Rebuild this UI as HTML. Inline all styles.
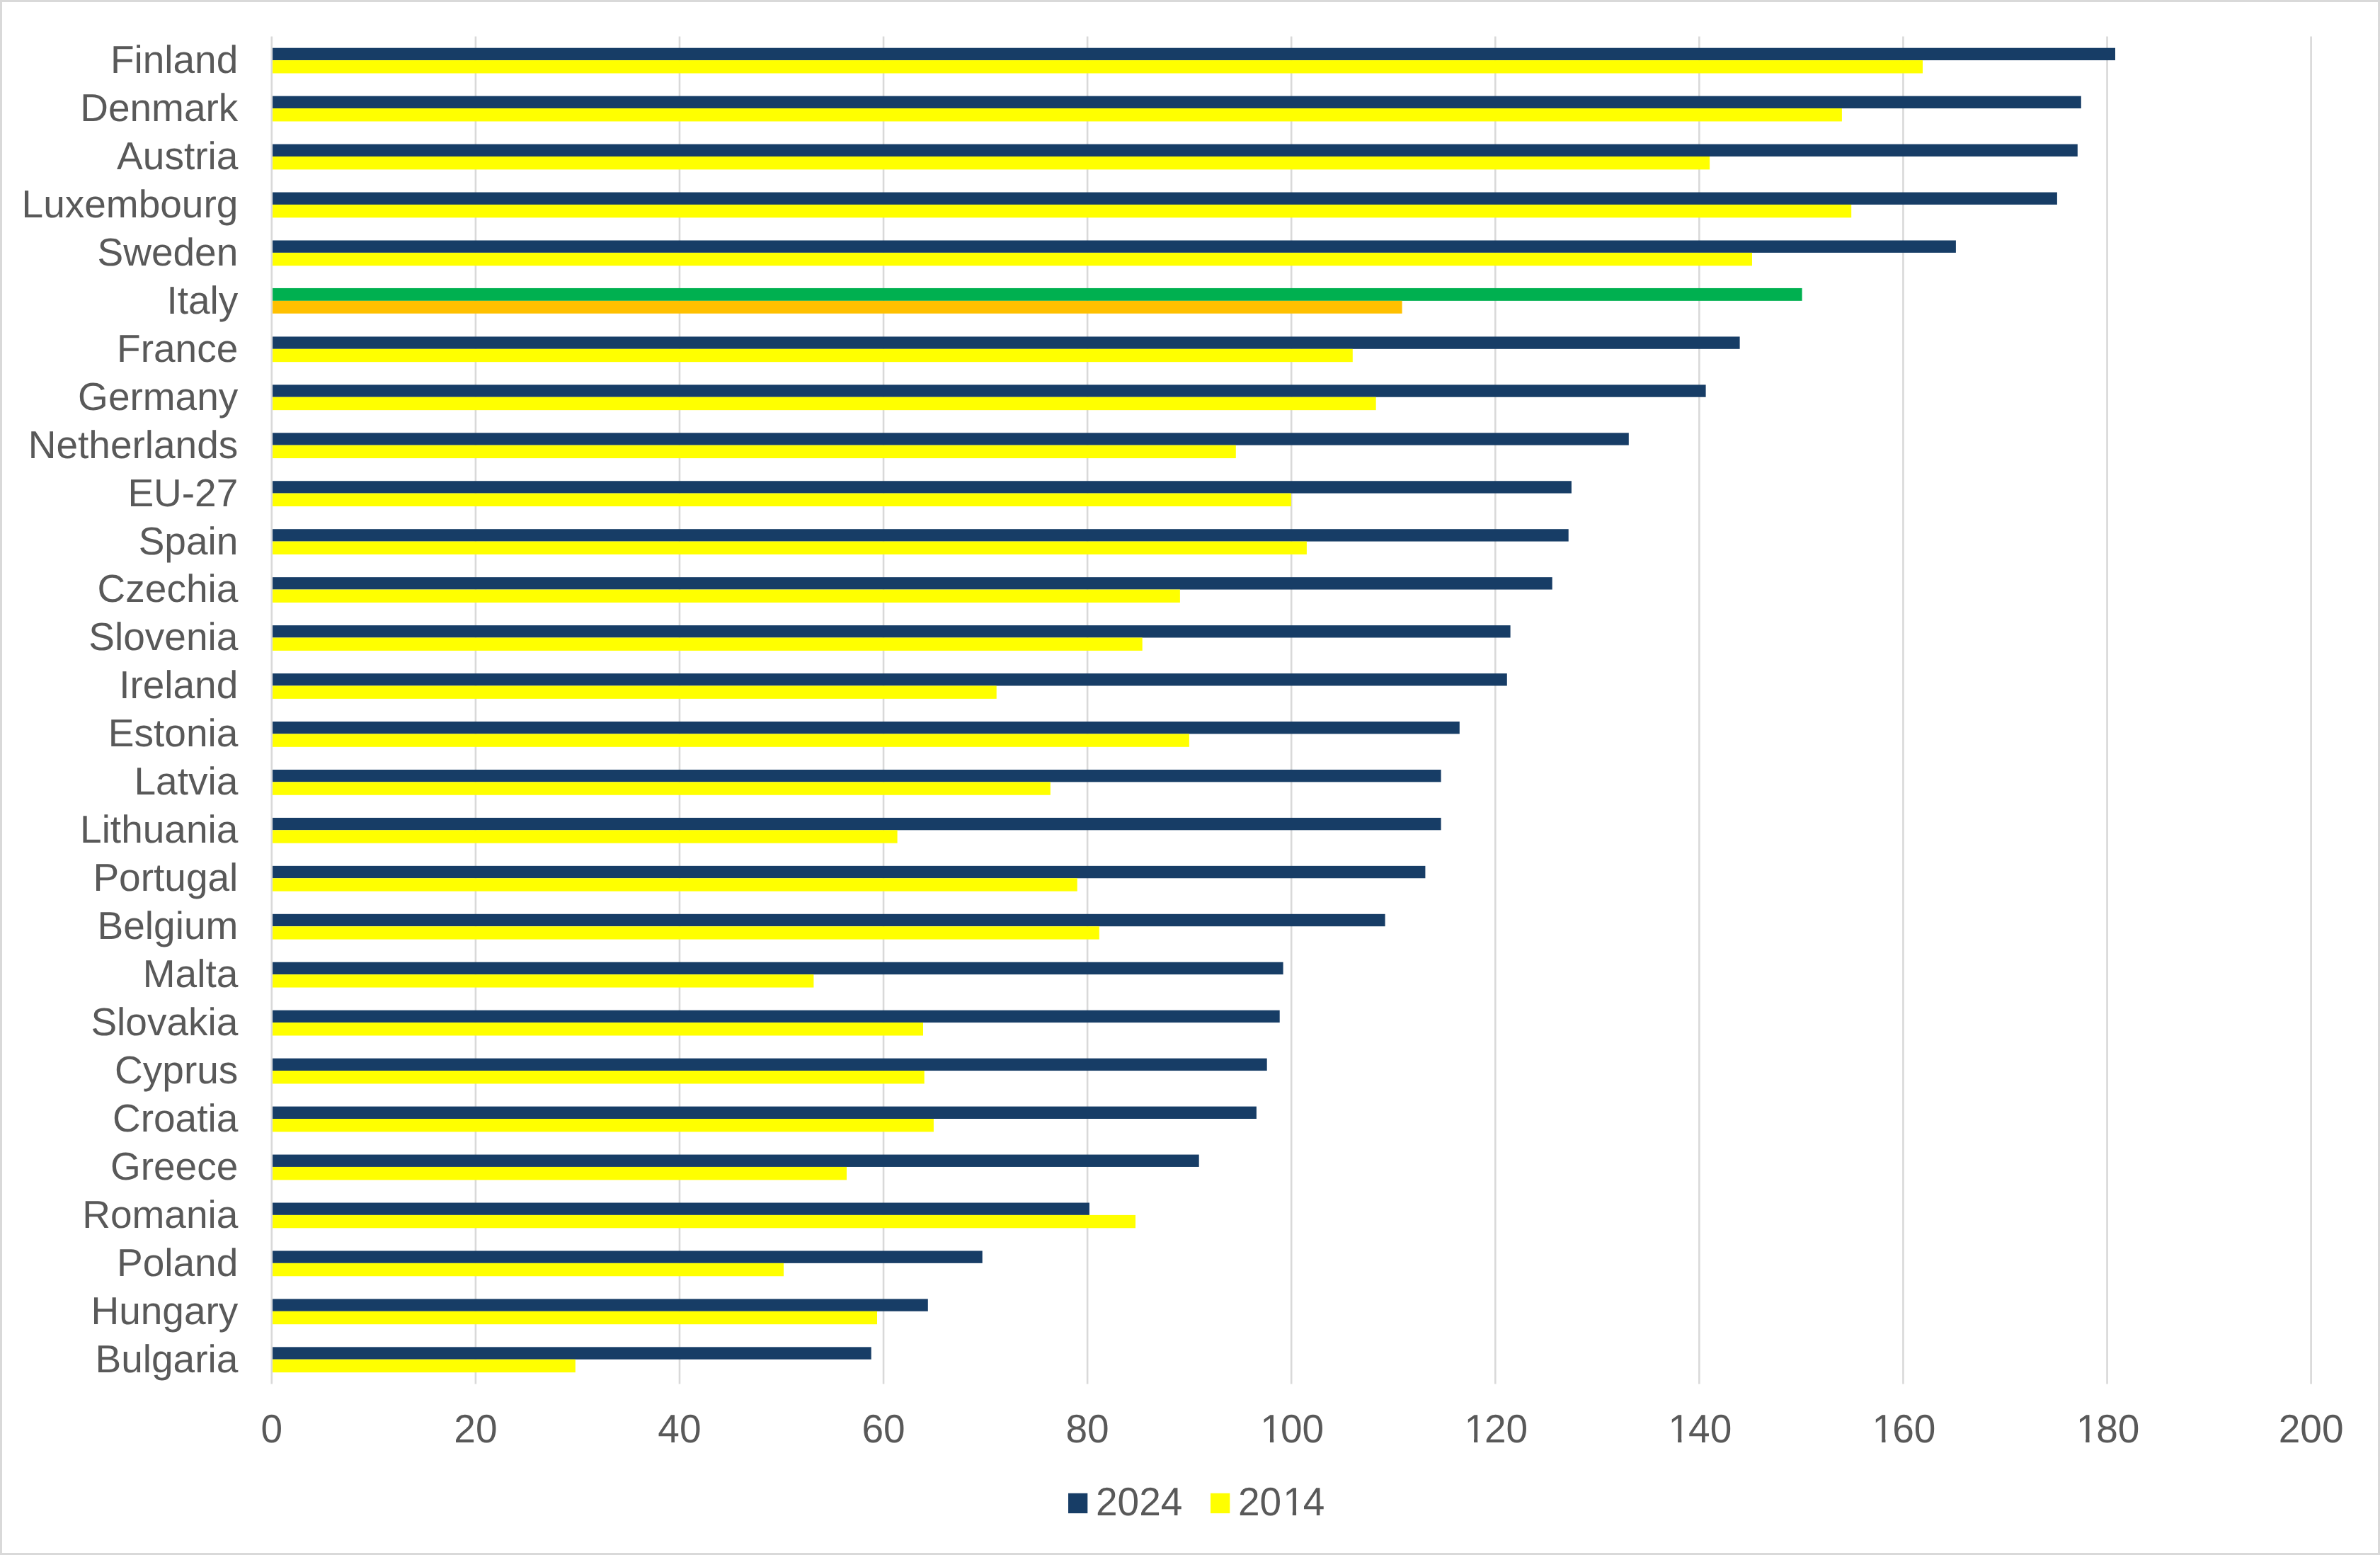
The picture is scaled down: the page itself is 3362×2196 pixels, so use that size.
<!DOCTYPE html>
<html lang="en"><head><meta charset="utf-8"><title>2024 vs 2014 by country</title>
<style>html,body{margin:0;padding:0;background:#fff}body{width:3362px;height:2196px;overflow:hidden}svg{display:block}text{font-family:"Liberation Sans",Arial,Helvetica,sans-serif;font-size:55px;fill:#595959;text-rendering:geometricPrecision}</style></head><body>
<svg width="3362" height="2196" viewBox="0 0 3362 2196">
<rect x="0" y="0" width="3362" height="2196" fill="#fff"/>
<rect x="1.5" y="1.5" width="3359" height="2193" fill="none" stroke="#d9d9d9" stroke-width="3"/>
<g fill="#d9d9d9">
<rect x="382.5" y="51.5" width="2.6" height="1903"/>
<rect x="670.58" y="51.5" width="2.6" height="1903"/>
<rect x="958.66" y="51.5" width="2.6" height="1903"/>
<rect x="1246.74" y="51.5" width="2.6" height="1903"/>
<rect x="1534.82" y="51.5" width="2.6" height="1903"/>
<rect x="1822.9" y="51.5" width="2.6" height="1903"/>
<rect x="2110.98" y="51.5" width="2.6" height="1903"/>
<rect x="2399.06" y="51.5" width="2.6" height="1903"/>
<rect x="2687.14" y="51.5" width="2.6" height="1903"/>
<rect x="2975.22" y="51.5" width="2.6" height="1903"/>
<rect x="3263.3" y="51.5" width="2.6" height="1903"/>
</g>
<rect x="385.1" y="67.7" width="2602.9" height="17.4" fill="#173d66"/>
<rect x="385.1" y="85.1" width="2330.9" height="18.4" fill="#ffff00"/>
<rect x="385.1" y="135.65" width="2554.7" height="17.4" fill="#173d66"/>
<rect x="385.1" y="153.05" width="2216.8" height="18.4" fill="#ffff00"/>
<rect x="385.1" y="203.6" width="2549.7" height="17.4" fill="#173d66"/>
<rect x="385.1" y="221" width="2030" height="18.4" fill="#ffff00"/>
<rect x="385.1" y="271.55" width="2520.8" height="17.4" fill="#173d66"/>
<rect x="385.1" y="288.95" width="2230.1" height="18.4" fill="#ffff00"/>
<rect x="385.1" y="339.5" width="2377.8" height="17.4" fill="#173d66"/>
<rect x="385.1" y="356.9" width="2089.9" height="18.4" fill="#ffff00"/>
<rect x="385.1" y="406.95" width="2160.5" height="17.9" fill="#00b050"/>
<rect x="385.1" y="424.85" width="1595.5" height="17.9" fill="#ffc000"/>
<rect x="385.1" y="475.4" width="2072.5" height="17.4" fill="#173d66"/>
<rect x="385.1" y="492.8" width="1525.7" height="18.4" fill="#ffff00"/>
<rect x="385.1" y="543.35" width="2024.5" height="17.4" fill="#173d66"/>
<rect x="385.1" y="560.75" width="1558.6" height="18.4" fill="#ffff00"/>
<rect x="385.1" y="611.3" width="1915.7" height="17.4" fill="#173d66"/>
<rect x="385.1" y="628.7" width="1360.7" height="18.4" fill="#ffff00"/>
<rect x="385.1" y="679.25" width="1834.8" height="17.4" fill="#173d66"/>
<rect x="385.1" y="696.65" width="1438.8" height="18.4" fill="#ffff00"/>
<rect x="385.1" y="747.2" width="1830.6" height="17.4" fill="#173d66"/>
<rect x="385.1" y="764.6" width="1460.8" height="18.4" fill="#ffff00"/>
<rect x="385.1" y="815.15" width="1807.6" height="17.4" fill="#173d66"/>
<rect x="385.1" y="832.55" width="1281.8" height="18.4" fill="#ffff00"/>
<rect x="385.1" y="883.1" width="1748.5" height="17.4" fill="#173d66"/>
<rect x="385.1" y="900.5" width="1228.6" height="18.4" fill="#ffff00"/>
<rect x="385.1" y="951.05" width="1743.7" height="17.4" fill="#173d66"/>
<rect x="385.1" y="968.45" width="1022.6" height="18.4" fill="#ffff00"/>
<rect x="385.1" y="1019" width="1676.7" height="17.4" fill="#173d66"/>
<rect x="385.1" y="1036.4" width="1294.8" height="18.4" fill="#ffff00"/>
<rect x="385.1" y="1086.95" width="1650.5" height="17.4" fill="#173d66"/>
<rect x="385.1" y="1104.35" width="1098.7" height="18.4" fill="#ffff00"/>
<rect x="385.1" y="1154.9" width="1650.5" height="17.4" fill="#173d66"/>
<rect x="385.1" y="1172.3" width="882.5" height="18.4" fill="#ffff00"/>
<rect x="385.1" y="1222.85" width="1628.3" height="17.4" fill="#173d66"/>
<rect x="385.1" y="1240.25" width="1136.6" height="18.4" fill="#ffff00"/>
<rect x="385.1" y="1290.8" width="1571.5" height="17.4" fill="#173d66"/>
<rect x="385.1" y="1308.2" width="1167.7" height="18.4" fill="#ffff00"/>
<rect x="385.1" y="1358.75" width="1427.5" height="17.4" fill="#173d66"/>
<rect x="385.1" y="1376.15" width="764.3" height="18.4" fill="#ffff00"/>
<rect x="385.1" y="1426.7" width="1422.6" height="17.4" fill="#173d66"/>
<rect x="385.1" y="1444.1" width="918.9" height="18.4" fill="#ffff00"/>
<rect x="385.1" y="1494.65" width="1404.6" height="17.4" fill="#173d66"/>
<rect x="385.1" y="1512.05" width="920.6" height="18.4" fill="#ffff00"/>
<rect x="385.1" y="1562.6" width="1389.8" height="17.4" fill="#173d66"/>
<rect x="385.1" y="1580" width="933.8" height="18.4" fill="#ffff00"/>
<rect x="385.1" y="1630.55" width="1308.6" height="17.4" fill="#173d66"/>
<rect x="385.1" y="1647.95" width="810.9" height="18.4" fill="#ffff00"/>
<rect x="385.1" y="1698.5" width="1153.8" height="17.4" fill="#173d66"/>
<rect x="385.1" y="1715.9" width="1218.9" height="18.4" fill="#ffff00"/>
<rect x="385.1" y="1766.45" width="1002.6" height="17.4" fill="#173d66"/>
<rect x="385.1" y="1783.85" width="721.9" height="18.4" fill="#ffff00"/>
<rect x="385.1" y="1834.4" width="925.7" height="17.4" fill="#173d66"/>
<rect x="385.1" y="1851.8" width="853.9" height="18.4" fill="#ffff00"/>
<rect x="385.1" y="1902.35" width="845.6" height="17.4" fill="#173d66"/>
<rect x="385.1" y="1919.75" width="427.7" height="18.4" fill="#ffff00"/>
<g text-anchor="end">
<text x="336.3" y="103">Finland</text>
<text x="336.3" y="170.95">Denmark</text>
<text x="336.3" y="238.9">Austria</text>
<text x="336.3" y="306.85">Luxembourg</text>
<text x="336.3" y="374.8">Sweden</text>
<text x="336.3" y="442.75">Italy</text>
<text x="336.3" y="510.7">France</text>
<text x="336.3" y="578.65">Germany</text>
<text x="336.3" y="646.6">Netherlands</text>
<text x="336.3" y="714.55">EU-27</text>
<text x="336.3" y="782.5">Spain</text>
<text x="336.3" y="850.45">Czechia</text>
<text x="336.3" y="918.4">Slovenia</text>
<text x="336.3" y="986.35">Ireland</text>
<text x="336.3" y="1054.3">Estonia</text>
<text x="336.3" y="1122.25">Latvia</text>
<text x="336.3" y="1190.2">Lithuania</text>
<text x="336.3" y="1258.15">Portugal</text>
<text x="336.3" y="1326.1">Belgium</text>
<text x="336.3" y="1394.05">Malta</text>
<text x="336.3" y="1462">Slovakia</text>
<text x="336.3" y="1529.95">Cyprus</text>
<text x="336.3" y="1597.9">Croatia</text>
<text x="336.3" y="1665.85">Greece</text>
<text x="336.3" y="1733.8">Romania</text>
<text x="336.3" y="1801.75">Poland</text>
<text x="336.3" y="1869.7">Hungary</text>
<text x="336.3" y="1937.65">Bulgaria</text>
</g>
<g>
<text transform="translate(368.506 2037.3) scale(1 1.025)">0</text>
<text transform="translate(641.292 2037.3) scale(1 1.025)">20</text>
<text transform="translate(929.372 2037.3) scale(1 1.025)">40</text>
<text transform="translate(1217.452 2037.3) scale(1 1.025)">60</text>
<text transform="translate(1505.532 2037.3) scale(1 1.025)">80</text>
<text transform="translate(1778.317 2037.3) scale(1 1.025)"><tspan dx="2">1</tspan><tspan dx="-2">0</tspan>0</text>
<text transform="translate(2066.397 2037.3) scale(1 1.025)"><tspan dx="2">1</tspan><tspan dx="-2">2</tspan>0</text>
<text transform="translate(2354.477 2037.3) scale(1 1.025)"><tspan dx="2">1</tspan><tspan dx="-2">4</tspan>0</text>
<text transform="translate(2642.557 2037.3) scale(1 1.025)"><tspan dx="2">1</tspan><tspan dx="-2">6</tspan>0</text>
<text transform="translate(2930.637 2037.3) scale(1 1.025)"><tspan dx="2">1</tspan><tspan dx="-2">8</tspan>0</text>
<text transform="translate(3218.717 2037.3) scale(1 1.025)">200</text>
</g>
<rect x="1509" y="2108.8" width="27.3" height="28.3" fill="#173d66"/>
<text transform="translate(1548 2140.3) scale(1 1.025)">2024</text>
<rect x="1710" y="2108.8" width="27.3" height="28.3" fill="#ffff00"/>
<text transform="translate(1749 2140.3) scale(1 1.025)">20<tspan dx="2">1</tspan><tspan dx="-2">4</tspan></text>
<g fill="#fff"><rect x="1783.003" y="2031.688" width="10.945" height="6.812"/><rect x="1799.209" y="2031.688" width="10.65" height="6.812"/><rect x="2071.083" y="2031.688" width="10.945" height="6.812"/><rect x="2087.289" y="2031.688" width="10.65" height="6.812"/><rect x="2359.163" y="2031.688" width="10.945" height="6.812"/><rect x="2375.369" y="2031.688" width="10.65" height="6.812"/><rect x="2647.243" y="2031.688" width="10.945" height="6.812"/><rect x="2663.449" y="2031.688" width="10.65" height="6.812"/><rect x="2935.323" y="2031.688" width="10.945" height="6.812"/><rect x="2951.529" y="2031.688" width="10.65" height="6.812"/><rect x="1814.862" y="2134.688" width="10.945" height="6.812"/><rect x="1831.068" y="2134.688" width="10.65" height="6.812"/></g>
</svg>
</body></html>
